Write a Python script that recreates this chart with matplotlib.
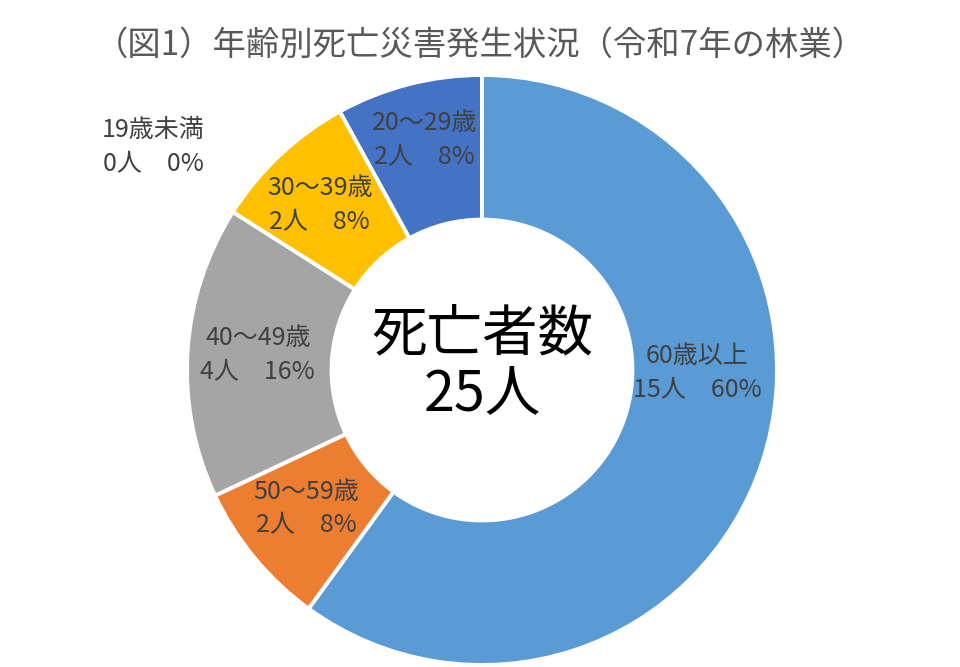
import matplotlib
matplotlib.use('Agg')
import matplotlib.pyplot as plt

plt.rcParams['font.family'] = ['Noto Sans CJK JP', 'DejaVu Sans']

# データ
age_groups = ['60歳以上', '50～59歳', '40～49歳', '30～39歳', '20～29歳', '19歳未満']
deaths     = [15, 2, 4, 2, 2, 0]
colors     = ['#5B9BD5', '#ED7D31', '#A5A5A5', '#FFC000', '#4472C4', '#70AD47']
total      = sum(deaths)

# ラベル位置（手動調整、データ座標）
label_pos = [(0.73, -0.01), (-0.595, -0.47), (-0.76, 0.05),
             (-0.55, 0.56), (-0.195, 0.78), (-1.115, 0.755)]

fig = plt.figure(figsize=(9.6, 6.67), dpi=100)
ax = fig.add_axes([0, 0, 1, 1])

R = 295.0
cx, cy = 482.0, 370.0

ax.pie(deaths, colors=colors, startangle=90, counterclock=False, radius=1.0,
       wedgeprops=dict(width=0.49, edgecolor='white', linewidth=2.8))
ax.set_xlim(-cx / R, (960 - cx) / R)
ax.set_ylim(-(667 - cy) / R, cy / R)
ax.axis('off')

for name, n, (x, y) in zip(age_groups, deaths, label_pos):
    pct = round(n / total * 100)
    ax.text(x, y, f'{name}\n{n}人　{pct}%', ha='center', va='center',
            fontsize=18, color='#404040', linespacing=1.4)

# 中央の文字
ax.text(0, 0.12, '死亡者数', ha='center', va='center', fontsize=40, color='black')
ax.text(0, -0.085, f'{total}人', ha='center', va='center', fontsize=40, color='black')

fig.text(0.5, 1 - 45 / 667, '（図1）年齢別死亡災害発生状況（令和7年の林業）',
         ha='center', va='center', fontsize=24, color='#595959')

fig.savefig('out.png', dpi=100)
